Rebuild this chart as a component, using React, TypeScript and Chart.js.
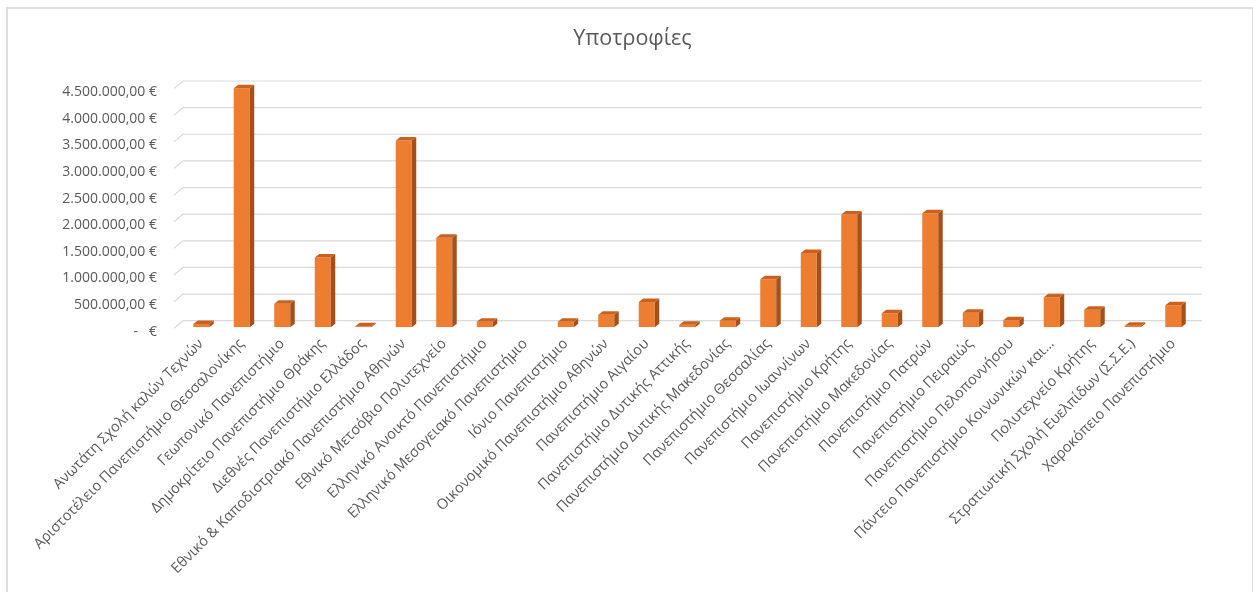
import React, { useEffect, useRef } from "react";
import { Chart, registerables } from "chart.js";

Chart.register(...registerables);

const categories: string[] = [
  "Ανωτάτη Σχολή καλών Τεχνών",
  "Αριστοτέλειο Πανεπιστήμιο Θεσσαλονίκης",
  "Γεωπονικό Πανεπιστήμιο",
  "Δημοκρίτειο Πανεπιστήμιο Θράκης",
  "Διεθνές Πανεπιστήμιο Ελλάδος",
  "Εθνικό & Καποδιστριακό Πανεπιστήμιο Αθηνών",
  "Εθνικό Μετσόβιο Πολυτεχνείο",
  "Ελληνικό Ανοικτό Πανεπιστήμιο",
  "Ελληνικό Μεσογειακό Πανεπιστήμιο",
  "Ιόνιο Πανεπιστήμιο",
  "Οικονομικό Πανεπιστήμιο Αθηνών",
  "Πανεπιστήμιο Αιγαίου",
  "Πανεπιστήμιο Δυτικής Αττικής",
  "Πανεπιστήμιο Δυτικής Μακεδονίας",
  "Πανεπιστήμιο Θεσσαλίας",
  "Πανεπιστήμιο Ιωαννίνων",
  "Πανεπιστήμιο Κρήτης",
  "Πανεπιστήμιο Μακεδονίας",
  "Πανεπιστήμιο Πατρών",
  "Πανεπιστήμιο Πειραιώς",
  "Πανεπιστήμιο Πελοποννήσου",
  "Πάντειο Πανεπιστήμιο Κοινωνικών και…",
  "Πολυτεχνείο Κρήτης",
  "Στρατιωτική Σχολή Ευελπίδων (Σ.Σ.Ε.)",
  "Χαροκόπειο Πανεπιστήμιο",
];

const scholarships: number[] = [
  60000, 4490000, 440000, 1310000, 20000, 3505000, 1680000, 105000, 0,
  105000, 236000, 474000, 50000, 124000, 900000, 1397000, 2116000, 262000,
  2140000, 273000, 131000, 562000, 330000, 30000, 412000,
];

const yMin = 0;
const yMax = 4500000;
const yStep = 500000;

const chartTitle = "Υποτροφίες";

const FONT = "'Open Sans', 'Noto Sans', sans-serif";
const TEXT = "#595959";

function formatEuro(v: number): string {
  if (v === 0) return "-   €";
  const s = Math.round(v).toString().replace(/\B(?=(\d{3})+(?!\d))/g, ".");
  return s + ",00 €";
}

const bar3d = {
  id: "bar3d",
  beforeDatasetsDraw(chart: any) {
    const ctx = chart.ctx;
    const y = chart.scales.y;
    const { left, right } = chart.chartArea;
    ctx.save();
    ctx.strokeStyle = "#d9d9d9";
    ctx.lineWidth = 1.2;
    y.ticks.forEach((t: any) => {
      const py = y.getPixelForValue(t.value);
      ctx.beginPath();
      ctx.moveTo(left - 7, py + 1);
      ctx.lineTo(left + 2, py - 6.6);
      ctx.lineTo(right + 8.5, py - 6.6);
      ctx.stroke();
    });
    ctx.restore();
  },
  afterDatasetsDraw(chart: any) {
    const ctx = chart.ctx;
    const meta = chart.getDatasetMeta(0);
    const data = chart.data.datasets[0].data as number[];
    const dx = 4.5;
    const dy = -3.5;
    ctx.save();
    meta.data.forEach((el: any, i: number) => {
      if (!data[i]) return;
      const { x, y, base, width } = el.getProps(["x", "y", "base", "width"], true);
      const l = x - width / 2;
      const r = x + width / 2;
      ctx.fillStyle = "#A5501A";
      ctx.beginPath();
      ctx.moveTo(r, y);
      ctx.lineTo(r + dx, y + dy);
      ctx.lineTo(r + dx, base + dy);
      ctx.lineTo(r, base);
      ctx.closePath();
      ctx.fill();
      ctx.fillStyle = "#C9621F";
      ctx.beginPath();
      ctx.moveTo(l, y);
      ctx.lineTo(l + dx, y + dy);
      ctx.lineTo(r + dx, y + dy);
      ctx.lineTo(r, y);
      ctx.closePath();
      ctx.fill();
    });
    ctx.restore();
  },
};

export default function App() {
  const ref = useRef<HTMLCanvasElement | null>(null);

  useEffect(() => {
    if (!ref.current) return;
    const chart = new Chart(ref.current, {
      type: "bar",
      data: {
        labels: categories,
        datasets: [
          {
            data: scholarships,
            backgroundColor: "#ED7D31",
            borderWidth: 0,
            categoryPercentage: 1,
            barPercentage: 0.395,
            yAxisID: "y",
          },
        ],
      },
      options: {
        responsive: false,
        animation: false,
        layout: { padding: { left: 5, right: 0, top: 0, bottom: 0 } },
        plugins: {
          legend: { display: false },
          tooltip: { enabled: false },
          title: {
            display: true,
            text: chartTitle,
            color: TEXT,
            font: { family: FONT, size: 21.5, weight: "normal" as any },
            padding: { top: 17, bottom: 35.8 },
          },
        },
        scales: {
          x: {
            grid: { display: false, drawTicks: false },
            border: { display: false },
            ticks: {
              autoSkip: false,
              minRotation: 45,
              maxRotation: 45,
              color: TEXT,
              font: { family: FONT, size: 14.5 },
              padding: 8,
            },
            afterFit: (s: any) => {
              s.height = 264.7;
            },
          },
          y: {
            min: yMin,
            max: yMax,
            grid: { display: false, drawTicks: false },
            border: { display: false },
            ticks: {
              stepSize: yStep,
              color: TEXT,
              font: { family: FONT, size: 14 },
              padding: 24,
              labelOffset: 4.4,
              callback: (v: any) => formatEuro(Number(v)),
            },
            afterFit: (s: any) => {
              s.width = 168;
            },
          },
          yRight: {
            position: "right",
            display: true,
            grid: { display: false, drawTicks: false },
            border: { display: false },
            ticks: { display: false },
            afterFit: (s: any) => {
              s.width = 58.5;
            },
          },
        },
      },
      plugins: [bar3d],
    });
    return () => chart.destroy();
  }, []);

  return (
    <div
      style={{
        position: "absolute",
        left: 6,
        top: 7,
        width: 1244,
        height: 600,
        border: "2px solid #dedede",
        background: "#fff",
        overflow: "hidden",
      }}
    >
      <canvas ref={ref} width={1244} height={583} style={{ display: "block" }} />
    </div>
  );
}
